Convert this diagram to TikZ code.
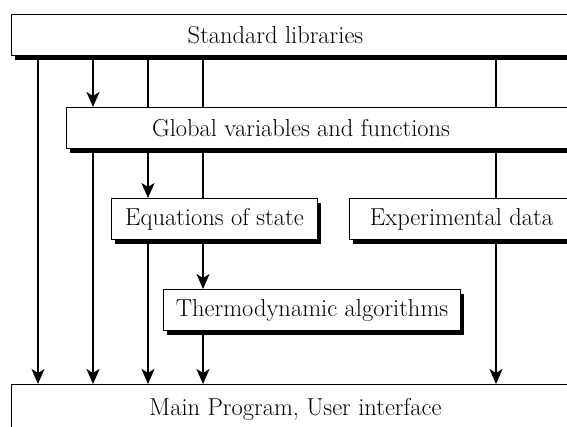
\documentclass[tikz,border=0pt]{standalone}
\usepackage{tikz}
\usetikzlibrary{arrows.meta, positioning, shadows}

\begin{document}
\begin{tikzpicture}[
    x=1pt, y=-1pt,
    font=\fontsize{24.5}{28}\selectfont,
    box/.style  = {draw, fill=white, line width=1pt, minimum height=41pt,
                   anchor=north west, inner sep=0pt,
                   drop shadow={shadow xshift=3pt, shadow yshift=-4.5pt,
                                opacity=1, fill=black}},
    wire/.style = {line width=2pt},
    arr/.style  = {wire, -{Stealth[length=15pt, width=13pt, inset=4pt]}},
  ]
  \clip (0,0) rectangle (567,426);

  % layers, top to bottom
  \node[box, minimum width=570pt,
        label={[xshift=-21pt]center:Standard libraries}] (std) at (11,14) {};
  \node[box, minimum width=515pt,
        label={[xshift=-23pt]center:Global variables and functions}] (glob) at (66,107) {};
  \node[box, minimum width=206pt] (eos) at (111,198) {Equations of state};
  \node[box, minimum width=224pt] (exp) at (349,198) {Experimental data};
  \node[box, minimum width=297pt] (thermo) at (163,289) {Thermodynamic algorithms};
  \node[box, minimum width=570pt, minimum height=50pt,
        label={[xshift=-1pt]center:Main Program, User interface}] (main) at (11,384) {};

  % columns
  \coordinate (c1) at (38,0);
  \coordinate (c2) at (93,0);
  \coordinate (c3) at (148,0);
  \coordinate (c4) at (203,0);
  \coordinate (c5) at (496,0);

  \draw[arr] (std.south -| c1) -- (main.north -| c1);

  \draw[arr] (std.south -| c2) -- (glob.north -| c2);
  \draw[arr] (glob.south -| c2) -- (main.north -| c2);

  \draw[wire] (std.south -| c3) -- (glob.north -| c3);
  \draw[arr] (glob.south -| c3) -- (eos.north -| c3);
  \draw[arr] (eos.south -| c3) -- (main.north -| c3);

  \draw[wire] (std.south -| c4) -- (glob.north -| c4);
  \draw[wire] (glob.south -| c4) -- (eos.north -| c4);
  \draw[arr] (eos.south -| c4) -- (thermo.north -| c4);
  \draw[arr] (thermo.south -| c4) -- (main.north -| c4);

  \draw[wire] (std.south -| c5) -- (glob.north -| c5);
  \draw[wire] (glob.south -| c5) -- (exp.north -| c5);
  \draw[arr] (exp.south -| c5) -- (main.north -| c5);
\end{tikzpicture}
\end{document}
